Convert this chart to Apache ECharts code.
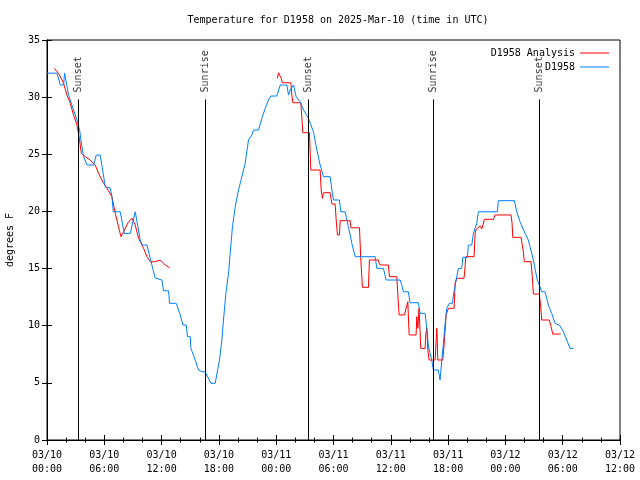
<!DOCTYPE html>
<html><head><meta charset="utf-8">
<script src="https://cdn.jsdelivr.net/npm/echarts@6/dist/echarts.min.js"></script>
<style>html,body{margin:0;padding:0;background:#fff}#c{width:640px;height:480px}</style>
</head><body><div id="c"></div>
<script>
// ---- data (hours since 03/10 00:00 UTC, degrees F) ----
const titleText = 'Temperature for D1958 on 2025-Mar-10 (time in UTC)';
const yAxisName = 'degrees F';
const xTickLabels = ['03/10\n00:00','03/10\n06:00','03/10\n12:00','03/10\n18:00','03/11\n00:00','03/11\n06:00','03/11\n12:00','03/11\n18:00','03/12\n00:00','03/12\n06:00','03/12\n12:00'];
const sunHours = [3.31, 16.54, 27.38, 40.46, 51.55];
const sunNames = ['Sunset','Sunrise','Sunset','Sunrise','Sunset'];
const sunLineTop = 29.8;
const obsName = 'D1958';
const anaName = 'D1958 Analysis';

const obs = [[0,32.1],[1.05,32.1],[1.39,31.06],[1.74,31.06],[1.84,32.1],[2.26,30.18],[2.78,28.87],[3.14,28.0],[3.41,27.12],[3.66,25.66],[3.83,24.79],[4.19,24.06],[4.88,24.06],[5.16,24.93],[5.58,24.93],[6.10,22.16],[6.62,22.05],[6.80,21.29],[6.94,19.97],[7.67,19.97],[8.09,18.08],[8.72,18.08],[9.24,19.97],[9.76,17.5],[9.94,17.06],[10.47,17.06],[10.81,15.9],[11.33,14.17],[11.51,14.0],[12.04,14.0],[12.20,13.06],[12.73,13.06],[12.83,11.96],[13.53,11.96],[13.95,10.94],[14.23,10.06],[14.58,10.06],[14.71,9.04],[15.0,9.04],[15.07,8.02],[15.52,7.0],[15.87,6.12],[16.22,5.98],[16.57,5.95],[17.16,4.96],[17.61,4.96],
[18.06,7.0],[18.31,8.75],[18.48,10.5],[18.73,12.83],[19.01,14.58],[19.18,16.33],[19.42,18.66],[19.71,20.41],[20.05,21.87],[20.41,23.04],[20.75,24.21],[21.10,26.25],[21.45,26.68],[21.62,27.12],[22.15,27.12],[22.50,28.15],[22.85,29.02],[23.19,29.75],[23.44,30.1],[24.07,30.1],[24.42,31.06],[25.12,31.06],[25.29,30.18],[25.46,30.62],[25.81,31.06],[26.09,30.03],[26.51,29.6],[26.86,28.87],[27.38,28.15],[27.90,26.97],[28.26,25.37],[28.60,24.06],[28.95,23.04],[29.65,23.04],[29.83,21.87],[30.0,21.0],[30.62,21.0],[30.77,19.97],[31.22,19.97],[31.56,18.66],[31.92,17.21],[32.27,16.04],[34.36,16.04],[34.54,15.02],[35.23,15.02],[35.51,14.0],[36.98,14.0],[37.15,13.56],[37.32,12.97],[37.84,12.97],[38.02,12.01],[38.89,12.01],[39.07,11.08],[39.59,11.08],[39.77,9.77],[39.94,8.16],[40.29,7.0],[40.46,6.12],[40.98,6.12],[41.16,5.25],
[41.34,7.0],[41.51,8.46],[41.69,10.21],[41.86,11.52],[42.13,11.96],[42.45,11.96],[42.56,12.69],[42.84,14.0],[43.08,15.02],[43.43,15.02],[43.54,15.98],[44.02,15.98],[44.12,17.06],[44.48,17.06],[44.65,18.08],[45.0,18.96],[45.17,19.97],[47.16,19.97],[47.26,20.94],[48.94,20.94],[49.19,19.97],[49.53,19.1],[50.06,18.08],[50.40,17.5],[50.58,16.91],[50.93,15.75],[51.10,15.02],[51.34,14.0],[51.62,13.41],[51.80,12.97],[52.15,12.97],[52.50,11.81],[52.85,11.08],[53.20,10.21],[53.72,10.0],[54.07,9.48],[54.42,8.75],[54.77,8.02],[55.11,8.02]];

const anaDay1 = [[0.76,32.52],[1.21,32.08],[1.74,31.21],[2.09,30.18],[2.44,29.46],[2.78,28.43],[3.14,27.56],[3.41,26.25],[3.59,25.08],[4.01,24.79],[4.53,24.5],[5.05,24.06],[5.40,23.33],[5.92,22.46],[6.28,22.02],[6.80,21.29],[7.15,19.83],[7.49,18.66],[7.74,17.79],[8.02,18.22],[8.54,19.1],[8.90,19.4],[9.24,18.81],[9.59,17.65],[10.11,16.77],[10.47,16.04],[10.81,15.6],[11.33,15.6],[11.86,15.75],[12.38,15.31],[12.83,15.07]];

const anaDay2 = [[24.13,31.65],[24.24,32.13],[24.42,32.13],[24.52,31.65],[24.66,31.26],[25.54,31.26],[25.64,30.18],[25.75,29.51],[26.58,29.51],[26.69,28.15],[26.79,26.89],[27.48,26.89],[27.63,23.62],[28.60,23.62],[28.71,21.87],[28.84,21.15],[28.95,21.64],[29.65,21.64],[29.83,20.65],[30.17,20.65],[30.28,19.25],[30.41,17.94],[30.62,17.94],[30.70,19.19],[31.74,19.19],[31.82,18.57],[32.72,18.57],[32.86,15.75],[33.03,13.36],[33.66,13.36],[33.76,15.75],[34.70,15.75],[34.81,15.37],[35.06,15.31],[35.75,15.31],[35.86,14.29],[36.63,14.29],[36.74,12.69],[36.87,10.94],[37.43,10.94],[37.60,11.52],[37.78,12.1],[37.92,9.19],[38.65,9.19],[38.72,10.79],[38.83,9.77],[38.96,11.52],[39.14,8.02],[39.59,8.02],[39.66,9.19],[39.77,9.77],[39.88,7.87],[40.01,7.0],[40.64,7.0],[40.82,9.77],[40.92,7.0],[41.44,7.0],[41.58,8.31],[41.79,10.94],[42.03,11.52],[42.63,11.52],[42.73,13.71],[42.91,14.15],[43.67,14.15],[43.78,15.22],[43.85,16.04],[44.72,16.04],[44.83,18.08],[44.93,18.43],[45.35,18.72],[45.53,18.46],[45.80,19.31],[46.74,19.31],[46.92,19.69],[48.59,19.69],[48.70,18.96],[48.77,17.73],[49.64,17.73],[49.88,16.47],[49.98,15.6],[50.68,15.6],[50.82,14.29],[50.93,12.77],[51.55,12.77],[51.70,11.66],[51.80,10.5],[52.60,10.5],[52.78,9.91],[52.96,9.27],[53.80,9.27]];

// ---- chart ----
const FONT = 'DejaVu Sans Mono';
const txt = {fontFamily: FONT, fontSize: 10, color: '#000'};
const chart = echarts.init(document.getElementById('c'), null, {renderer: 'canvas'});

const xCommon = {type: 'value', min: 0, max: 60, interval: 6,
  axisLine: {show: true, lineStyle: {color: '#000', width: 1}},
  axisTick: {show: true, inside: true, length: 5, lineStyle: {color: '#000'}},
  minorTick: {show: true, splitNumber: 3, length: 2.5, lineStyle: {color: '#000'}},
  splitLine: {show: false}};
const yCommon = {type: 'value', min: 0, max: 35, interval: 5,
  axisLine: {show: true, lineStyle: {color: '#000', width: 1}},
  axisTick: {show: true, inside: true, length: 5, lineStyle: {color: '#000'}},
  splitLine: {show: false}};

const option = {
  animation: false,
  backgroundColor: '#fff',
  title: {text: titleText, left: 333, top: 10, textAlign: 'center',
    textStyle: Object.assign({fontWeight: 'normal'}, txt)},
  grid: {left: 47, right: 20, top: 40, bottom: 40, containLabel: false, outerBoundsMode: 'none',
    show: true, borderColor: '#000', borderWidth: 1},
  legend: [
    {data: [anaName], right: 26, top: 43, align: 'right', orient: 'vertical', icon: 'rect', itemWidth: 29, itemHeight: 1, itemGap: 0, textStyle: txt},
    {data: [obsName], right: 26, top: 57, align: 'right', orient: 'vertical', icon: 'rect', itemWidth: 29, itemHeight: 1, itemGap: 0, textStyle: txt}
  ],
  xAxis: [
    Object.assign({}, xCommon, {position: 'bottom',
      axisLabel: Object.assign({margin: 8, lineHeight: 14, formatter: v => xTickLabels[Math.round(v / 6)]}, txt)}),
    Object.assign({}, xCommon, {position: 'top', axisLabel: {show: false}})
  ],
  yAxis: [
    Object.assign({}, yCommon, {position: 'left', name: yAxisName, nameLocation: 'middle', nameGap: 32, nameRotate: 90,
      nameTextStyle: txt, axisLabel: Object.assign({margin: 7}, txt)}),
    Object.assign({}, yCommon, {position: 'right', axisLabel: {show: false}})
  ],
  series: [
    {name: anaName, type: 'line', data: anaDay1, showSymbol: false, symbol: 'none', color: '#ff0000', lineStyle: {width: 1, color: '#ff0000'}},
    {name: anaName, type: 'line', data: anaDay2, showSymbol: false, symbol: 'none', color: '#ff0000', lineStyle: {width: 1, color: '#ff0000'}},
    {name: obsName, type: 'line', data: obs, showSymbol: false, symbol: 'none', color: '#0080ff', lineStyle: {width: 1, color: '#0080ff'}},
    {name: 'sun', type: 'scatter', symbolSize: 0, silent: true,
      data: sunHours.map((h, i) => [h, sunLineTop, sunNames[i]]),
      label: Object.assign({show: true, position: 'top', distance: 7, rotate: 90, align: 'left', verticalAlign: 'middle',
        formatter: p => p.data[2]}, txt),
      markLine: {silent: true, symbol: 'none', label: {show: false},
        lineStyle: {color: '#000', width: 1, type: 'solid'},
        data: sunHours.map(h => [{coord: [h, 0]}, {coord: [h, sunLineTop]}])}
    }
  ]
};
chart.setOption(option);
</script>
</body></html>
